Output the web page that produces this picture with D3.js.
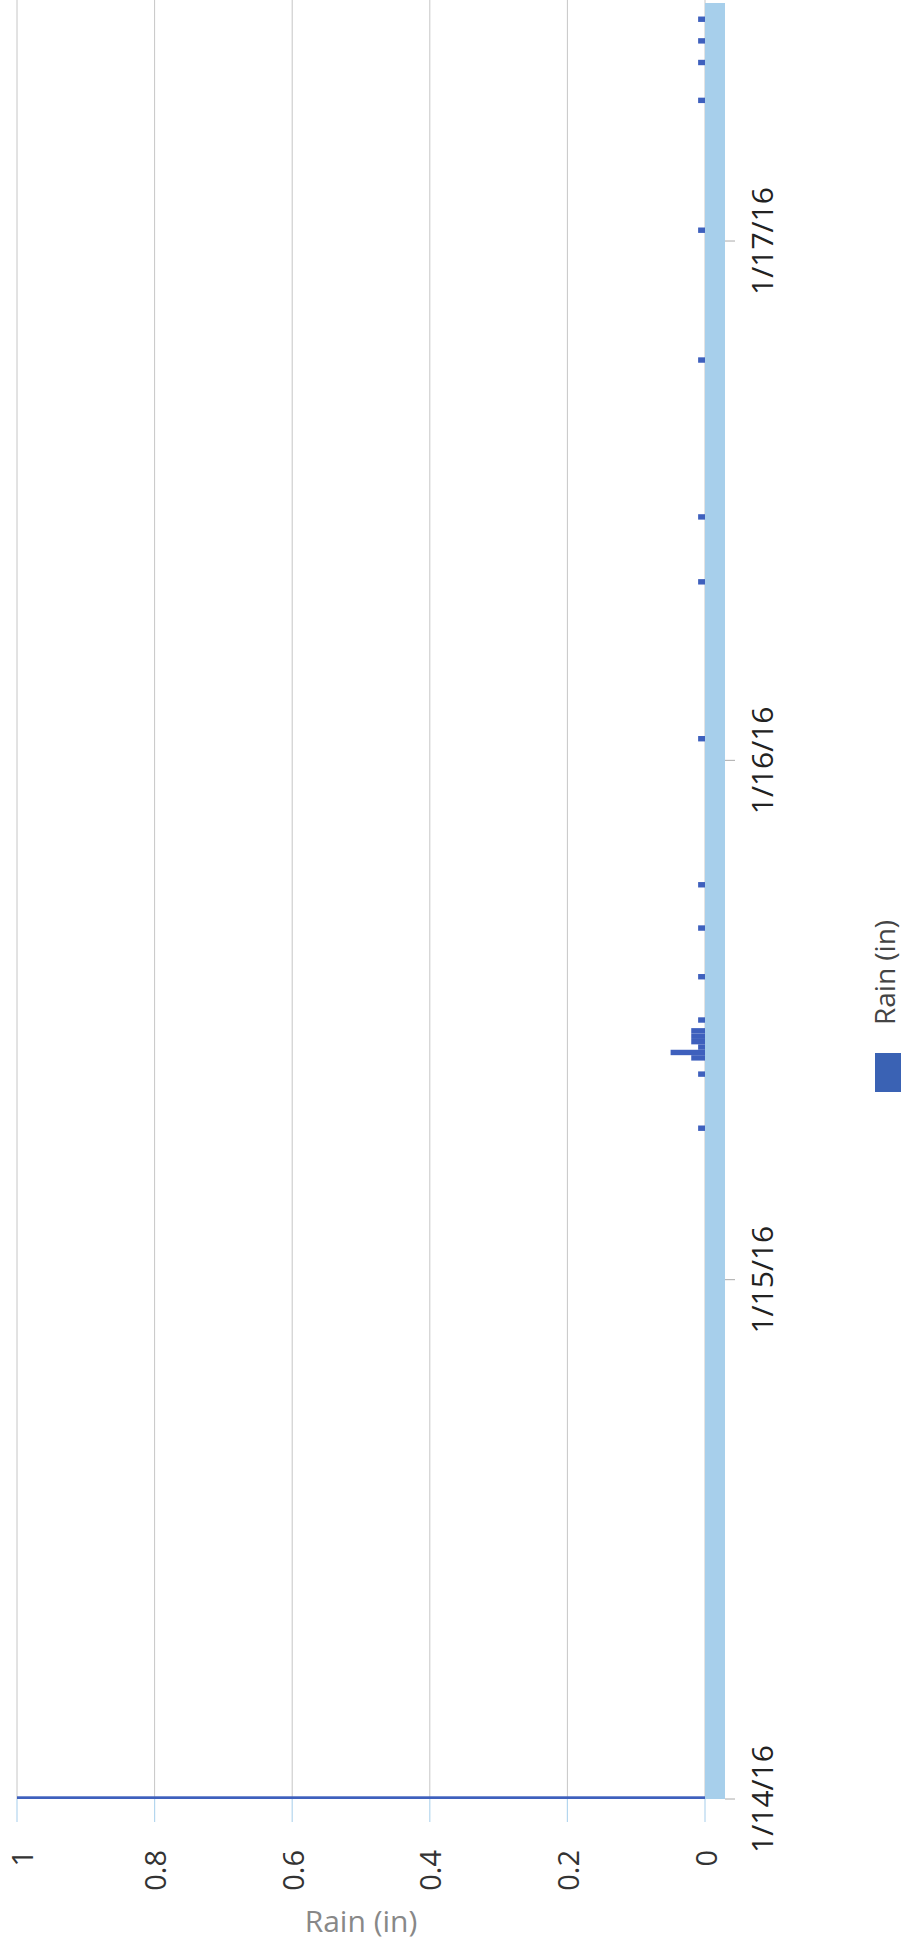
<!DOCTYPE html>
<html>
<head>
<meta charset="utf-8">
<script src="https://cdn.jsdelivr.net/npm/d3@7"></script>
<style>
  body { margin: 0; background: #fff; }
  svg { display: block; font-family: "Open Sans", sans-serif; }
</style>
</head>
<body>
<div id="chart"></div>
<script>
// rain readings (15 min steps), the first one runs off the top of the axis
var rainTimes = ["2016-01-14 00:00", "2016-01-15 07:00", "2016-01-15 09:30", "2016-01-15 10:15",
    "2016-01-15 10:30", "2016-01-15 10:45", "2016-01-15 11:00", "2016-01-15 11:15", "2016-01-15 11:30",
    "2016-01-15 12:00", "2016-01-15 14:00", "2016-01-15 16:15", "2016-01-15 18:15", "2016-01-16 01:00",
    "2016-01-16 08:15", "2016-01-16 11:15", "2016-01-16 18:30", "2016-01-17 00:30", "2016-01-17 06:30",
    "2016-01-17 08:15", "2016-01-17 09:15", "2016-01-17 10:15"];
var rainValues = [1.1, 0.01, 0.01, 0.02,
    0.05, 0.01, 0.02, 0.02, 0.02,
    0.01, 0.01, 0.01, 0.01, 0.01,
    0.01, 0.01, 0.01, 0.01, 0.01,
    0.01, 0.01, 0.01];
var valueTicks = [0, 0.2, 0.4, 0.6, 0.8, 1];
var dateTicks = ["2016-01-14", "2016-01-15", "2016-01-16", "2016-01-17"];
var timeDomain = ["2016-01-14 00:00", "2016-01-17 11:00"];
var seriesName = "Rain (in)";

var W = 904, H = 1942;
var parseTime = d3.utcParse("%Y-%m-%d %H:%M");
var parseDay = d3.utcParse("%Y-%m-%d");
var formatDay = d3.utcFormat("%-m/%-d/%y");

var data = rainTimes.map(function (t, i) { return [parseTime(t), rainValues[i]]; });

const svg = d3.select("#chart").append("svg")
    .attr("width", W)
    .attr("height", H);

// chart is drawn lying on its side: inner x = time, inner y = rain
var g = svg.append("g")
    .attr("transform", `translate(0,${H}) rotate(-90)`);

var x = d3.scaleUtc()
    .domain(timeDomain.map(parseTime))
    .range([143, 1939]);
var y = d3.scaleLinear()
    .domain([0, 1])
    .range([705, 17]);

var plotLeft = x.range()[0], plotRight = H;
var zeroY = y(0), topY = y(1);

// grid lines
g.selectAll(".grid")
    .data(valueTicks)
    .enter().append("line")
    .attr("class", "grid")
    .attr("x1", plotLeft)
    .attr("x2", plotRight)
    .attr("y1", function (d) { return y(d); })
    .attr("y2", function (d) { return y(d); })
    .attr("stroke", "#c6c6c6")
    .attr("stroke-width", 1);

// value ticks below the plot
g.selectAll(".vtick")
    .data(valueTicks)
    .enter().append("line")
    .attr("class", "vtick")
    .attr("x1", 120)
    .attr("x2", plotLeft)
    .attr("y1", function (d) { return y(d); })
    .attr("y2", function (d) { return y(d); })
    .attr("stroke", "#b4d6ee")
    .attr("stroke-width", 1.2);

// keep the "1" label inside the page edge
g.selectAll(".vlabel")
    .data(valueTicks)
    .enter().append("text")
    .attr("class", "vlabel")
    .attr("x", 92)
    .attr("y", function (d) { return Math.max(y(d), 21); })
    .attr("text-anchor", "end")
    .attr("dominant-baseline", "central")
    .attr("font-size", 29)
    .attr("fill", "#333")
    .text(function (d) { return d3.format("~g")(d); });

// light blue axis band
g.append("rect")
    .attr("x", plotLeft)
    .attr("y", zeroY)
    .attr("width", x.range()[1] - plotLeft)
    .attr("height", 20)
    .attr("fill", "#a7cfeb");

// date ticks and labels
var days = dateTicks.map(parseDay);
g.selectAll(".dtick")
    .data(days)
    .enter().append("line")
    .attr("class", "dtick")
    .attr("x1", function (d) { return x(d); })
    .attr("x2", function (d) { return x(d); })
    .attr("y1", zeroY + 20)
    .attr("y2", zeroY + 30)
    .attr("stroke", "#aaa")
    .attr("stroke-width", 1);

g.selectAll(".dlabel")
    .data(days)
    .enter().append("text")
    .attr("class", "dlabel")
    .attr("x", function (d) { return x(d); })
    .attr("y", 773)
    .attr("text-anchor", "middle")
    .attr("font-size", 30)
    .attr("fill", "#222")
    .text(function (d) { return formatDay(d); });

// bars, clipped at the top of the value axis
g.append("clipPath").attr("id", "plotClip")
    .append("rect")
    .attr("x", plotLeft)
    .attr("y", topY)
    .attr("width", plotRight - plotLeft)
    .attr("height", zeroY - topY);

var barW = x(parseTime("2016-01-14 00:15")) - x(parseTime("2016-01-14 00:00"));
g.append("g")
    .attr("clip-path", "url(#plotClip)")
    .selectAll("rect")
    .data(data)
    .enter().append("rect")
    .attr("x", function (d) { return x(d[0]) - barW / 2; })
    .attr("y", function (d) { return y(d[1]); })
    .attr("width", barW)
    .attr("height", function (d) { return zeroY - y(d[1]); })
    .attr("fill", "#3e60bd");

// legend
var legend = g.append("g")
    .attr("transform", "translate(850, 875)");
legend.append("rect")
    .attr("width", 39)
    .attr("height", 26)
    .attr("fill", "#3a62b4");
legend.append("text")
    .attr("x", 67)
    .attr("y", 9)
    .attr("dominant-baseline", "central")
    .attr("font-size", 28)
    .attr("fill", "#444")
    .text(seriesName);

// axis title stays upright
svg.append("text")
    .attr("x", (y(0) + y(1)) / 2)
    .attr("y", 1932)
    .attr("text-anchor", "middle")
    .attr("font-size", 30)
    .attr("fill", "#888")
    .text(seriesName);
</script>
</body>
</html>
